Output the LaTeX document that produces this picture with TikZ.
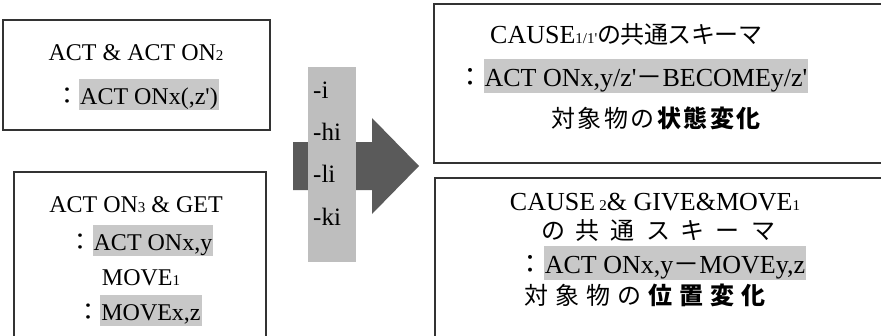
\documentclass[tikz,border=0pt]{standalone}
\usepackage{fontspec}
\setmainfont{Liberation Serif}[Ligatures=TeXOff]
\newfontfamily\jp{Noto Sans CJK JP}
\definecolor{hlgray}{HTML}{C8C8C8}
\definecolor{bandgray}{HTML}{BEBEBE}
\definecolor{arrowgray}{HTML}{5A5A5A}
\definecolor{framegray}{HTML}{333333}
% grey marker behind a formula
\newcommand\hl[1]{{\setlength\fboxsep{0pt}\colorbox{hlgray}{\rule[-0.27em]{0pt}{1.3em}\hspace{1pt}#1\hspace{1pt}}}}
\newcommand\cln{{\jp ：}}
\newcommand\dsh{{\jp －}}
% small index set on the baseline
\newcommand\ix[1]{{\fontsize{15}{15}\selectfont #1}}
% Japanese characters set in cells of a given pitch
\newlength\jw
\newcommand\J[1]{\makebox[\jw]{#1}}
\tikzset{
  frame/.style={draw=framegray, line width=1.2pt},
  txt/.style={anchor=base, inner sep=0pt, font=\fontsize{24}{30}\selectfont},
  rtxt/.style={txt, font=\fontsize{26}{31}\selectfont},
  suffix/.style={anchor=base west, inner sep=0pt, font=\fontsize{25}{30}\selectfont},
}
\begin{document}
\begin{tikzpicture}[x=1pt,y=-1pt]
\useasboundingbox (0,0) rectangle (881,335);

% source boxes
\draw[frame] (3,20) rectangle (270,130);
\draw[frame] (14,172) rectangle (266,345);
\node[txt] (a1) at (136,60) {ACT \& ACT ON\ix{2}};
\node[txt] (a2) at (137,104) {\cln\hl{ACT ONx(,z')}};
\node[txt] (b1) at (136,212) {ACT ON\ix{3} \& GET};
\node[txt] (b2) at (141,250) {\cln\hl{ACT ONx,y}};
\node[txt] (b3) at (141,285) {MOVE\ix{1}};
\node[txt] (b4) at (139,320) {\cln\hl{MOVEx,z}};

% block arrow with the suffix band
\fill[arrowgray] (293,142) -- (372,142) -- (372,118) -- (419,166)
  -- (372,214) -- (372,190) -- (293,190) -- cycle;
\fill[bandgray] (308,67) rectangle (356,262);
\node[suffix] (s1) at (313,98) {-i};
\node[suffix] (s2) at (313,140) {-hi};
\node[suffix] (s3) at (313,182) {-li};
\node[suffix] (s4) at (313,225) {-ki};

% target boxes
\draw[frame] (434,4) rectangle (895,163);
\draw[frame] (435,178) rectangle (895,345);
\node[rtxt] (c1) at (626,43) {CAUSE\ix{1/1'}{\jp\fontsize{24}{30}\selectfont\setlength\jw{23.5pt}%
  \J{の}\J{共}\J{通}\J{ス}\J{キ}\J{ー}\J{マ}}};
\node[rtxt] (c2) at (633,86) {\cln\hl{ACT ONx,y/z'\dsh BECOMEy/z'}};
\node[rtxt] (c3) at (656,127) {{\jp\fontsize{24}{30}\selectfont\setlength\jw{26.5pt}%
  \J{対}\J{象}\J{物}\J{の}\J{\bfseries 状}\J{\bfseries 態}\J{\bfseries 変}\J{\bfseries 化}}};
\node[rtxt] (d1) at (655,210) {CAUSE\,\ix{2}\& GIVE\&MOVE\ix{1}};
\node[rtxt] (d2) at (658,239) {{\jp\fontsize{24}{30}\selectfont\setlength\jw{35pt}%
  \J{の}\J{共}\J{通}\J{ス}\J{キ}\J{ー}\J{マ}}};
\node[rtxt] (d3) at (662,273) {\cln\hl{ACT ONx,y\dsh MOVEy,z}};
\node[rtxt] (d4) at (645,304) {{\jp\fontsize{24}{30}\selectfont\setlength\jw{31pt}%
  \J{対}\J{象}\J{物}\J{の}\J{\bfseries 位}\J{\bfseries 置}\J{\bfseries 変}\J{\bfseries 化}}};
\end{tikzpicture}
\end{document}
